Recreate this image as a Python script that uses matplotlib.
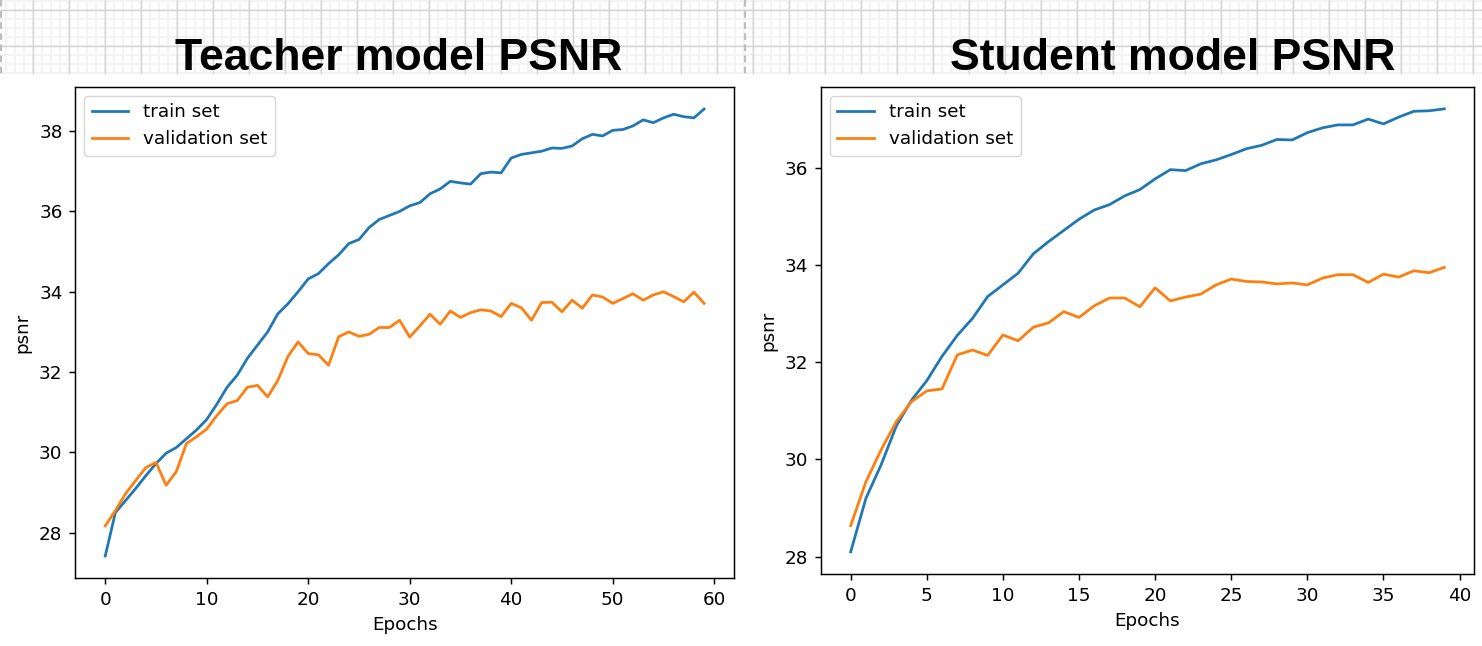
import numpy as np
import matplotlib
matplotlib.use("Agg")
import matplotlib.pyplot as plt
from matplotlib import font_manager

W, H = 1482, 646

# --- data ---
teacher_train = [27.42, 28.50, 28.80, 29.10, 29.42, 29.72, 29.98, 30.12, 30.34, 30.56,
                 30.82, 31.20, 31.62, 31.92, 32.34, 32.67, 33.00, 33.45, 33.70, 34.00,
                 34.32, 34.45, 34.70, 34.92, 35.20, 35.30, 35.60, 35.80, 35.90, 36.00,
                 36.14, 36.22, 36.44, 36.56, 36.75, 36.71, 36.68, 36.94, 36.98, 36.96,
                 37.33, 37.42, 37.46, 37.50, 37.58, 37.57, 37.63, 37.81, 37.92, 37.88,
                 38.02, 38.04, 38.13, 38.28, 38.21, 38.33, 38.42, 38.36, 38.33, 38.55]
teacher_val = [28.17, 28.55, 28.97, 29.30, 29.62, 29.75, 29.18, 29.52, 30.22, 30.39,
               30.58, 30.92, 31.21, 31.29, 31.62, 31.67, 31.38, 31.79, 32.39, 32.75,
               32.46, 32.43, 32.17, 32.88, 33.00, 32.89, 32.94, 33.11, 33.11, 33.29,
               32.87, 33.15, 33.44, 33.19, 33.52, 33.36, 33.48, 33.55, 33.52, 33.38,
               33.71, 33.60, 33.29, 33.73, 33.74, 33.50, 33.79, 33.59, 33.92, 33.87,
               33.71, 33.83, 33.95, 33.79, 33.92, 34.00, 33.88, 33.75, 33.99, 33.71]
student_train = [28.10, 29.20, 29.89, 30.69, 31.22, 31.62, 32.12, 32.55, 32.90, 33.35,
                 33.59, 33.83, 34.23, 34.48, 34.71, 34.94, 35.13, 35.24, 35.42, 35.55,
                 35.77, 35.96, 35.94, 36.08, 36.16, 36.27, 36.39, 36.46, 36.58, 36.57,
                 36.72, 36.82, 36.88, 36.88, 37.00, 36.90, 37.04, 37.16, 37.17, 37.21]
student_val = [28.64, 29.54, 30.20, 30.78, 31.19, 31.41, 31.45, 32.15, 32.25, 32.14,
               32.56, 32.44, 32.72, 32.81, 33.04, 32.92, 33.16, 33.32, 33.32, 33.14,
               33.53, 33.26, 33.34, 33.40, 33.59, 33.71, 33.66, 33.65, 33.61, 33.63,
               33.59, 33.73, 33.80, 33.80, 33.64, 33.81, 33.75, 33.88, 33.84, 33.95]

titles = ["Teacher model PSNR", "Student model PSNR"]
series_labels = ["train set", "validation set"]

# scale of the screenshot (inline figure at ~132 dpi)
s = 1.32
plt.rcParams.update({
    "font.size": 10 * s,
    "axes.linewidth": 0.8 * s,
    "lines.linewidth": 1.5 * s,
    "xtick.major.size": 3.5 * s,
    "ytick.major.size": 3.5 * s,
    "xtick.major.width": 0.8 * s,
    "ytick.major.width": 0.8 * s,
    "xtick.major.pad": 3.5 * s,
    "ytick.major.pad": 3.5 * s,
    "axes.labelpad": 4.0 * s,
})

fig = plt.figure(figsize=(W / 100, H / 100), dpi=100)

# --- canvas grid band behind the titles ---
bg = fig.add_axes([0, 0, 1, 1], zorder=-5)
bg.set_xlim(0, W)
bg.set_ylim(H, 0)
bg.axis("off")
band = 74
for x in np.arange(6.3, W, 9):
    bg.plot([x, x], [0, band], color="#f3f3f3", lw=1.4, solid_capstyle="butt")
for y in np.arange(1.3, band, 9):
    bg.plot([0, W], [y, y], color="#f3f3f3", lw=1.4, solid_capstyle="butt")
for x in np.arange(33.3, W, 36):
    bg.plot([x, x], [0, band], color="#d4d4d4", lw=1.0, solid_capstyle="butt")
for y in [10.3, 46.3]:
    bg.plot([0, W], [y, y], color="#d4d4d4", lw=1.0, solid_capstyle="butt")
for x in [0.8, 744.5]:
    bg.plot([x, x], [0, band], color="#bdbdbd", lw=1.6, ls=(0, (3, 2)))

names = {f.name for f in font_manager.fontManager.ttflist}
if "Liberation Sans Narrow" in names:
    title_font, title_size = "Liberation Sans Narrow", 36
else:
    title_font, title_size = "Liberation Sans", 32

title_x = [399, 1173]
for t, tx in zip(titles, title_x):
    fig.text(tx / W, 1 - 69.5 / H, t, ha="center", va="baseline",
             fontsize=title_size, fontweight="bold", family=title_font, color="black")

# --- the two charts ---
ax1 = fig.add_axes([75.3 / W, 1 - 578.3 / H, (734 - 75.3) / W, (578.3 - 86.7) / H])
ax2 = fig.add_axes([821 / W, 1 - 574 / H, (1474 - 821) / W, (574 - 86.7) / H])

for ax, tr, va in [(ax1, teacher_train, teacher_val), (ax2, student_train, student_val)]:
    ax.plot(range(len(tr)), tr, label=series_labels[0])
    ax.plot(range(len(va)), va, label=series_labels[1])
    ax.set_xlabel("Epochs")
    ax.set_ylabel("psnr")
    ax.legend(loc="upper left")

fig.savefig("out.png", dpi=100)
